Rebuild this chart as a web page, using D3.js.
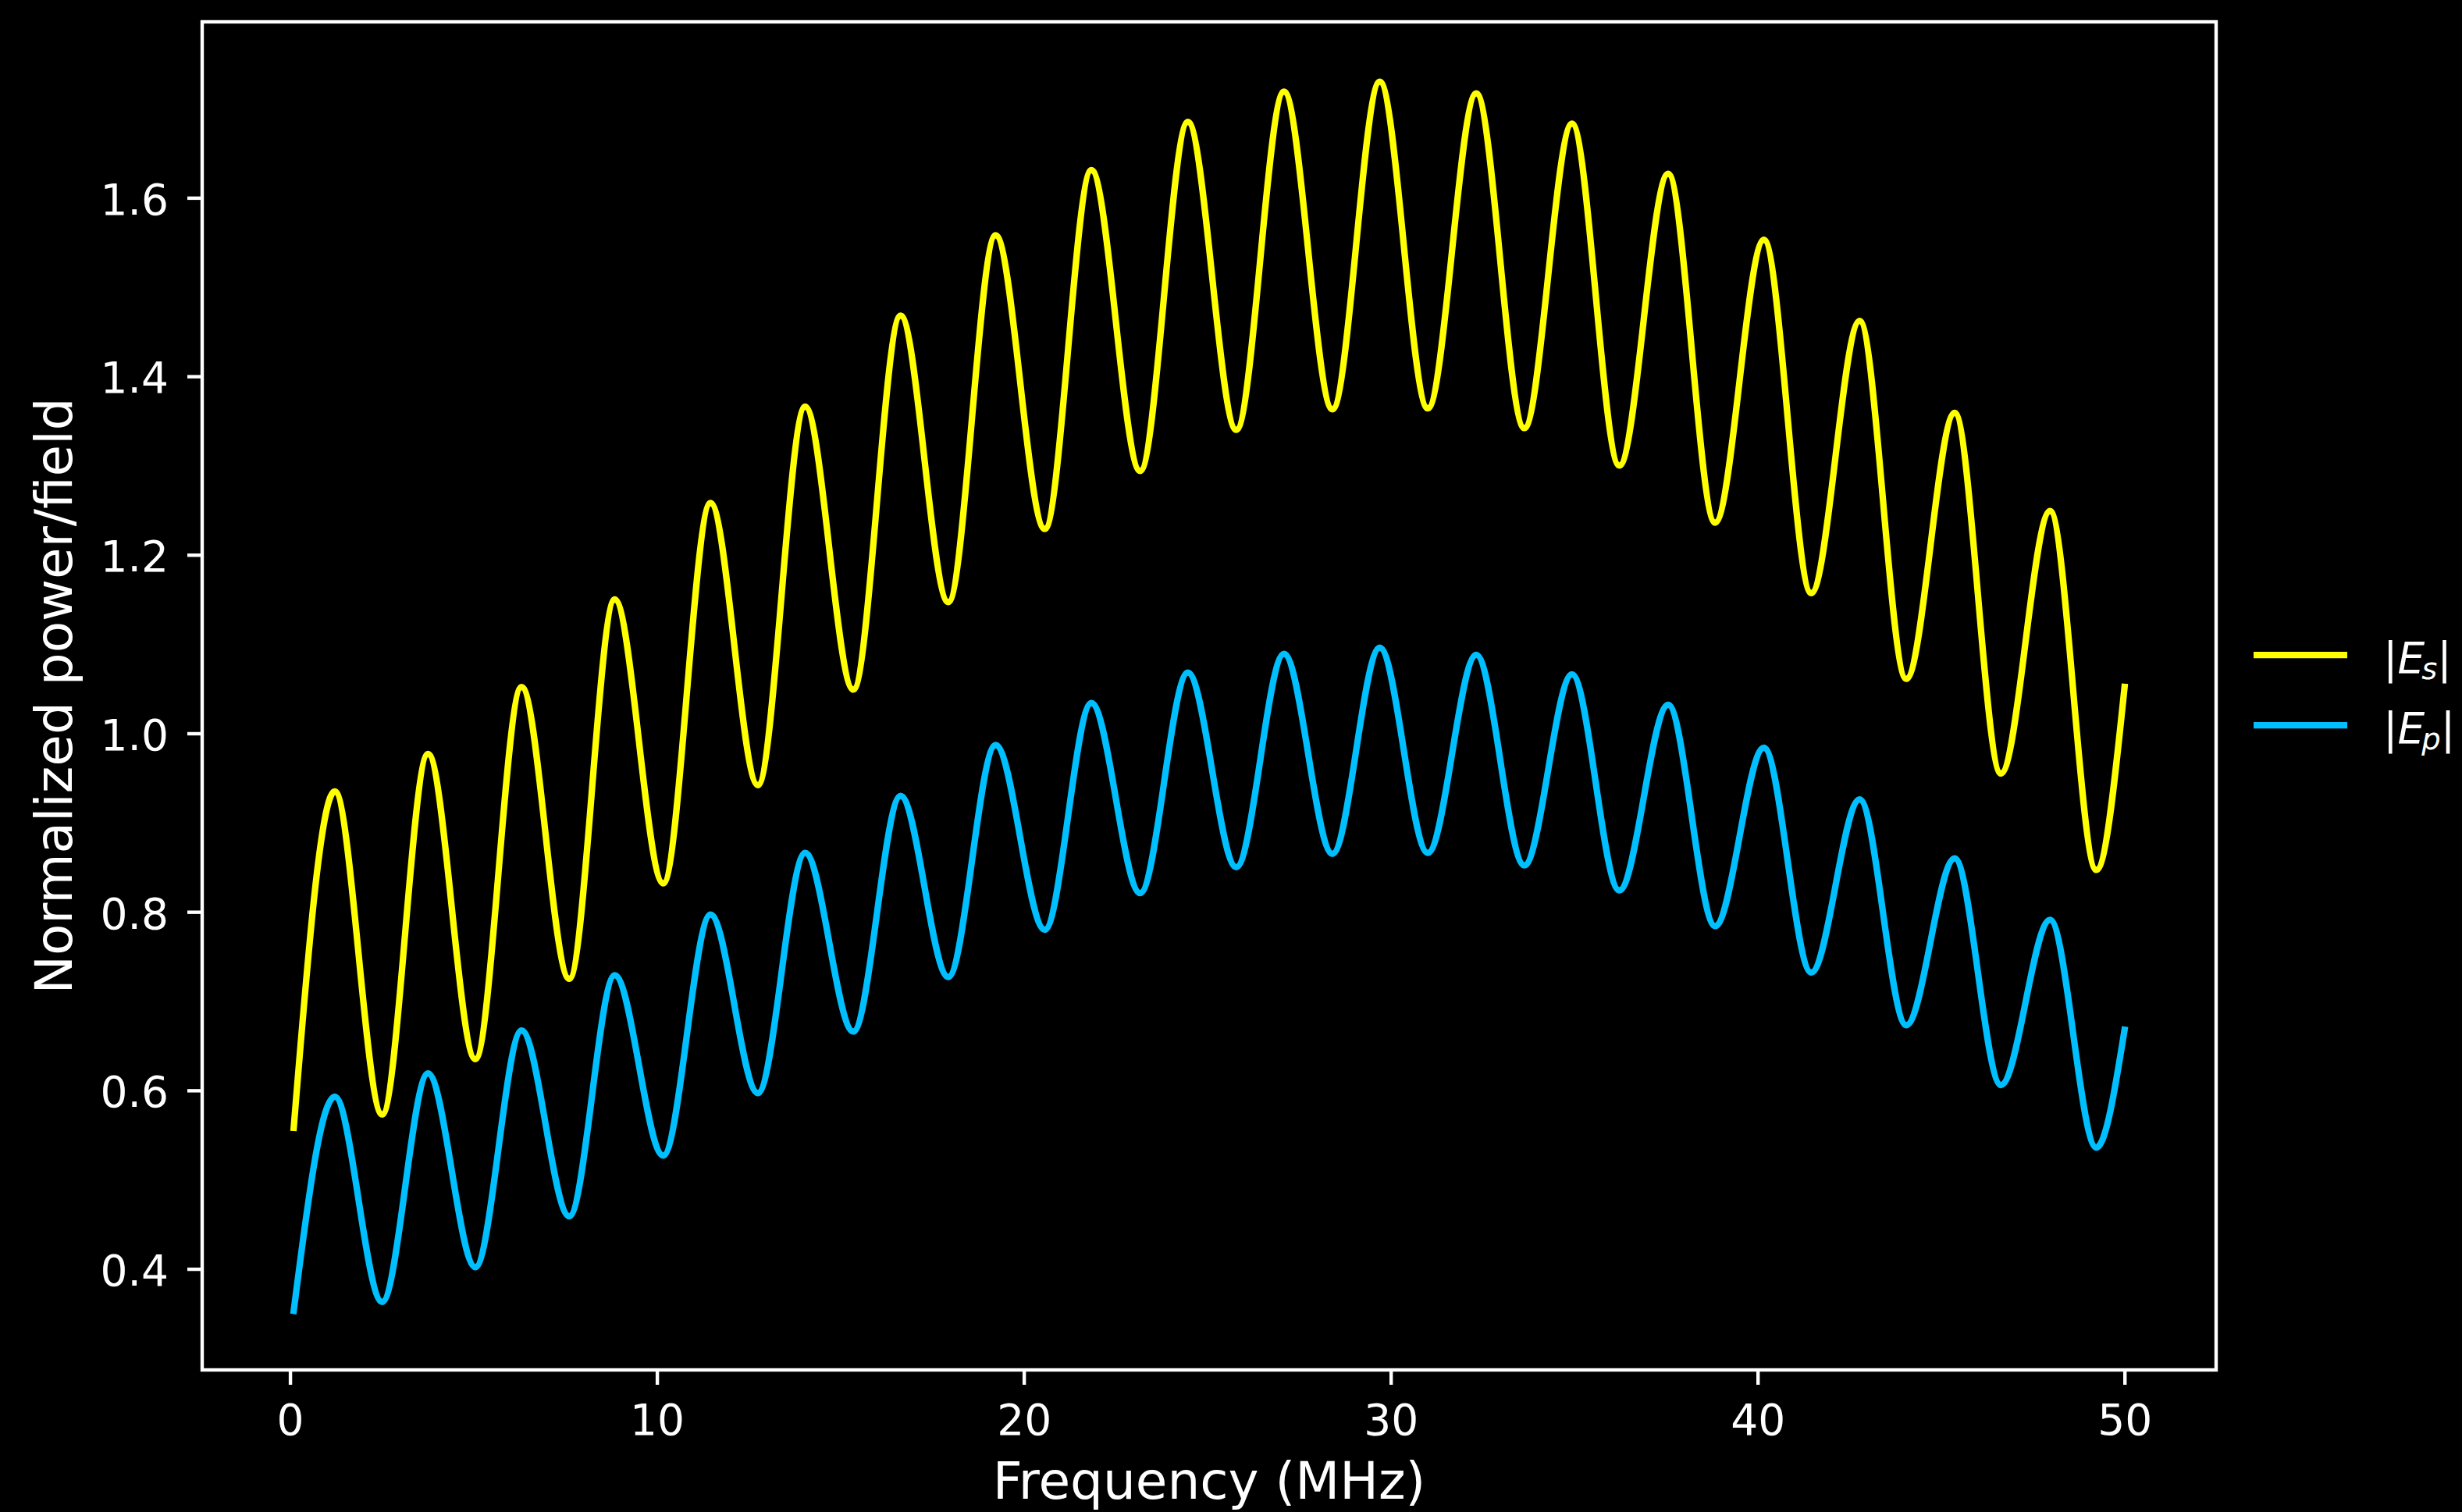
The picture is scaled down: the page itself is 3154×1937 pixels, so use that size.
<!DOCTYPE html>
<html>
<head>
<meta charset="utf-8">
<script src="https://cdn.jsdelivr.net/npm/d3@7"></script>
<style>
  html, body { margin: 0; padding: 0; background: #000; }
  svg { display: block; }
</style>
</head>
<body>
<svg id="chart" width="3154" height="1937"></svg>
<script>
// ---- Data (local extrema of each curve + end points) ----
const freqMHz = [0.1, 1.22, 2.51, 3.76, 5.05, 6.31, 7.61, 8.85, 10.17, 11.46,
                 12.75, 14.04, 15.35, 16.64, 17.94, 19.23, 20.57, 21.84, 23.17, 24.47,
                 25.79, 27.09, 28.41, 29.70, 31.01, 32.33, 33.64, 34.94, 36.23, 37.56,
                 38.84, 40.17, 41.46, 42.78, 44.05, 45.37, 46.63, 47.97, 49.23, 50.0];
const esValues = [0.558, 0.935, 0.573, 0.977, 0.635, 1.052, 0.725, 1.150, 0.832, 1.258,
                  0.942, 1.366, 1.049, 1.468, 1.147, 1.558, 1.229, 1.631, 1.294, 1.685,
                  1.340, 1.719, 1.363, 1.730, 1.364, 1.717, 1.342, 1.683, 1.300, 1.627,
                  1.236, 1.553, 1.157, 1.462, 1.061, 1.359, 0.955, 1.249, 0.847, 1.052];
const epValues = [0.353, 0.593, 0.363, 0.619, 0.402, 0.667, 0.459, 0.729, 0.527, 0.797,
                  0.597, 0.866, 0.666, 0.930, 0.727, 0.987, 0.780, 1.034, 0.821, 1.068,
                  0.850, 1.089, 0.865, 1.096, 0.866, 1.088, 0.852, 1.066, 0.824, 1.032,
                  0.784, 0.984, 0.732, 0.926, 0.673, 0.860, 0.606, 0.791, 0.536, 0.668];
const seriesLabels = [["E", "s"], ["E", "p"]];
const seriesColors = ["#ffff00", "#00bfff"];
const xTicks = [0, 10, 20, 30, 40, 50];
const yTicks = [0.4, 0.6, 0.8, 1.0, 1.2, 1.4, 1.6];
const xLabel = "Frequency (MHz)";
const yLabel = "Normalized power/field";

// ---- Layout ----
const FONT = "DejaVu Sans, Liberation Sans, sans-serif";
const plot = { left: 259, right: 2839, top: 28, bottom: 1755 };
const svg = d3.select("#chart");
svg.append("rect").attr("width", 3154).attr("height", 1937).attr("fill", "#000");

const x = d3.scaleLinear().domain([-2.395, 52.495]).range([plot.left, plot.right]);
const y = d3.scaleLinear().domain([0.2868, 1.7971]).range([plot.bottom, plot.top]);

// ---- Axes ----
const xAxis = d3.axisBottom(x).tickValues(xTicks).tickFormat(d3.format("d"))
  .tickSize(19).tickPadding(25);
const yAxis = d3.axisLeft(y).tickValues(yTicks).tickFormat(d3.format(".1f"))
  .tickSize(19).tickPadding(24);

const gx = svg.append("g").attr("transform", `translate(0,${plot.bottom})`).call(xAxis);
const gy = svg.append("g").attr("transform", `translate(${plot.left},0)`).call(yAxis);
[gx, gy].forEach(g => {
  g.select(".domain").remove();
  g.selectAll(".tick line").attr("stroke", "#fff").attr("stroke-width", 4.4);
  g.selectAll(".tick text").attr("fill", "#fff").attr("font-size", 55)
    .attr("font-family", FONT);
});
gy.selectAll(".tick text").attr("dy", "0.38em");

// ---- Series ----
const series = [esValues, epValues];
const line = d3.line()
  .x((d, i) => x(freqMHz[i]))
  .y(d => y(d))
  .curve(d3.curveMonotoneX);

series.forEach((vals, k) => {
  svg.append("path")
    .datum(vals)
    .attr("d", line)
    .attr("fill", "none")
    .attr("stroke", seriesColors[k])
    .attr("stroke-width", 8.25)
    .attr("stroke-linejoin", "round")
    .attr("stroke-linecap", "square");
});

// ---- Frame ----
svg.append("rect")
  .attr("x", plot.left).attr("y", plot.top)
  .attr("width", plot.right - plot.left).attr("height", plot.bottom - plot.top)
  .attr("fill", "none").attr("stroke", "#fff").attr("stroke-width", 4.4);

// ---- Axis labels ----
svg.append("text")
  .attr("x", (plot.left + plot.right) / 2).attr("y", 1920)
  .attr("text-anchor", "middle").attr("fill", "#fff")
  .attr("font-size", 66).attr("font-family", FONT)
  .text(xLabel);

svg.append("text")
  .attr("transform", `translate(92,${(plot.top + plot.bottom) / 2}) rotate(-90)`)
  .attr("text-anchor", "middle").attr("fill", "#fff")
  .attr("font-size", 66).attr("font-family", FONT)
  .text(yLabel);

// ---- Legend ----
const legY = [839, 929];
seriesLabels.forEach((lab, k) => {
  svg.append("line")
    .attr("x1", 2887).attr("x2", 3007)
    .attr("y1", legY[k]).attr("y2", legY[k])
    .attr("stroke", seriesColors[k]).attr("stroke-width", 8.25);
  const t = svg.append("text")
    .attr("x", 3053).attr("y", legY[k] + 23)
    .attr("fill", "#fff").attr("font-size", 55).attr("font-family", FONT);
  t.append("tspan").text("|");
  t.append("tspan").attr("font-style", "italic").text(lab[0]);
  t.append("tspan").attr("font-style", "italic").attr("font-size", 38.5)
    .attr("dx", -4).attr("dy", 8).text(lab[1]);
  t.append("tspan").attr("dy", -8).text("|");
});
</script>
</body>
</html>
